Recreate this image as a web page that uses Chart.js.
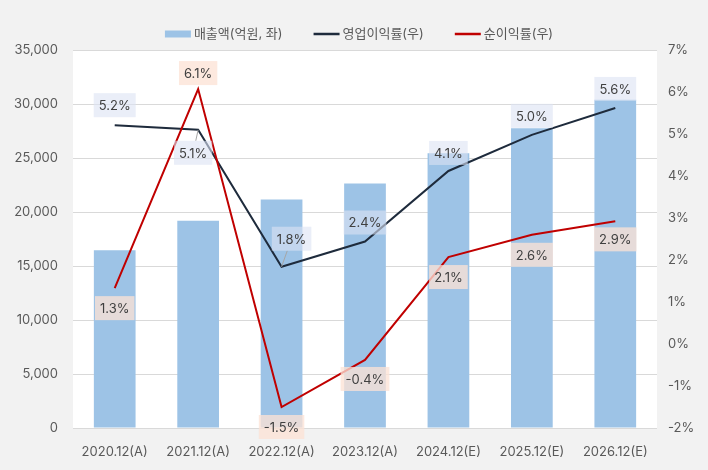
<!DOCTYPE html>
<html>
<head>
<meta charset="utf-8">
<script src="https://cdn.jsdelivr.net/npm/chart.js@4.4.1/dist/chart.umd.min.js"></script>
<style>
  html, body { margin: 0; padding: 0; background: #f2f2f2; }
  #wrap { width: 708px; height: 470px; }
</style>
</head>
<body>
<div id="wrap"><canvas id="myChart" width="708" height="470"></canvas></div>
<script>
// data
const years = ['2020.12(A)', '2021.12(A)', '2022.12(A)', '2023.12(A)', '2024.12(E)', '2025.12(E)', '2026.12(E)'];
const sales = [16450, 19200, 21150, 22650, 25450, 27750, 30400];
const opMargin = [5.21, 5.10, 1.84, 2.44, 4.12, 4.98, 5.62];
const netMargin = [1.33, 6.07, -1.5, -0.38, 2.07, 2.6, 2.92];
const leftTicks = [0, 5000, 10000, 15000, 20000, 25000, 30000, 35000];
const rightTicks = [-2, -1, 0, 1, 2, 3, 4, 5, 6, 7];

// label offsets (px) relative to each point
const opOffsets = [[0, -20], [-5, 23], [10, -28], [0, -19], [0, -18], [0, -19], [0, -19]];
const netOffsets = [[0, 20], [0, -16], [0, 20], [0, 19], [0, 20], [0, 20], [0, 18]];

const FONT = 'Inter, "Noto Sans CJK KR", sans-serif';
Chart.defaults.font.family = FONT;
Chart.defaults.font.size = 13;
Chart.defaults.color = '#595959';

const bgPlugin = {
  id: 'bg',
  beforeDraw(chart) {
    const c = chart.ctx, a = chart.chartArea;
    c.save();
    c.fillStyle = '#f2f2f2';
    c.fillRect(0, 0, chart.width, chart.height);
    c.fillStyle = '#ffffff';
    c.fillRect(a.left, a.top, a.right - a.left, a.bottom - a.top);
    c.restore();
  }
};

// legend drawn by hand so the item spacing matches
const legendPlugin = {
  id: 'myLegend',
  afterDraw(chart) {
    const c = chart.ctx;
    const ds = chart.data.datasets;
    const items = [ds[2], ds[0], ds[1]];
    const sw = 26, gapT = 3, gapItem = 31, y = 34;
    c.save();
    c.font = '13px ' + FONT;
    c.textBaseline = 'middle';
    const widths = items.map(d => c.measureText(d.label).width);
    let total = widths.reduce((s, w) => s + sw + gapT + w, 0) + gapItem * (items.length - 1);
    let x = chart.width / 2 + 5 - total / 2;
    items.forEach((d, i) => {
      if (d.type === 'line') {
        c.strokeStyle = d.borderColor;
        c.lineWidth = 2.5;
        c.beginPath();
        c.moveTo(x, y);
        c.lineTo(x + sw, y);
        c.stroke();
      } else {
        c.fillStyle = d.backgroundColor;
        c.fillRect(x, y - 3.5, sw, 7);
      }
      c.fillStyle = '#595959';
      c.fillText(d.label, x + sw + gapT, y);
      x += sw + gapT + widths[i] + gapItem;
    });
    c.restore();
  }
};

const labelPlugin = {
  id: 'pctLabels',
  afterDatasetsDraw(chart) {
    const c = chart.ctx;
    const sets = [
      { idx: 0, offs: opOffsets, bg: 'rgba(220,226,244,0.6)', vals: opMargin },
      { idx: 1, offs: netOffsets, bg: 'rgba(252,226,213,0.77)', vals: netMargin }
    ];
    c.save();
    c.font = '13px ' + FONT;
    c.textAlign = 'center';
    c.textBaseline = 'middle';
    sets.forEach(s => {
      const meta = chart.getDatasetMeta(s.idx);
      meta.data.forEach((pt, i) => {
        const txt = s.vals[i].toFixed(1) + '%';
        const dx = s.offs[i][0], dy = s.offs[i][1];
        const x = pt.x + dx, y = pt.y + dy;
        const w = c.measureText(txt).width + 10, h = 24;
        if (Math.abs(dy) > 21) {
          // leader line from the point to the box edge
          const t = (Math.abs(dy) - h / 2) / Math.abs(dy);
          c.strokeStyle = '#a6a6a6';
          c.lineWidth = 1;
          c.beginPath();
          c.moveTo(pt.x, pt.y);
          c.lineTo(pt.x + dx * t, pt.y + dy * t);
          c.stroke();
        }
        c.fillStyle = s.bg;
        c.fillRect(x - w / 2, y - h / 2, w, h);
        c.fillStyle = '#404040';
        c.fillText(txt, x, y + 1);
      });
    });
    c.restore();
  }
};

const ctx = document.getElementById('myChart');
const myChart = new Chart(ctx, {
  type: 'bar',
  data: {
    labels: years,
    datasets: [
      {
        type: 'line',
        label: '영업이익률(우)',
        data: opMargin,
        yAxisID: 'y1',
        borderColor: '#1e2b3c',
        backgroundColor: '#1e2b3c',
        borderWidth: 2,
        pointRadius: 0,
        tension: 0,
        order: 1
      },
      {
        type: 'line',
        label: '순이익률(우)',
        data: netMargin,
        yAxisID: 'y1',
        borderColor: '#c00000',
        backgroundColor: '#c00000',
        borderWidth: 2,
        pointRadius: 0,
        tension: 0,
        order: 0
      },
      {
        label: '매출액(억원, 좌)',
        data: sales,
        yAxisID: 'y',
        backgroundColor: '#9dc3e6',
        categoryPercentage: 1,
        barPercentage: 0.5,
        order: 2
      }
    ]
  },
  options: {
    responsive: false,
    animation: false,
    layout: { padding: { top: 50, left: 0, right: 0, bottom: 0 } },
    plugins: {
      tooltip: { enabled: false },
      legend: { display: false }
    },
    scales: {
      x: {
        grid: { display: false },
        border: { display: false },
        ticks: { color: '#595959', padding: 8, maxRotation: 0 },
        afterFit(s) { s.height = 42; }
      },
      y: {
        position: 'left',
        min: 0,
        max: 35000,
        afterBuildTicks(s) { s.ticks = leftTicks.map(v => ({ value: v })); },
        grid: { color: '#d9d9d9', drawTicks: false },
        border: { display: false },
        ticks: {
          color: '#595959',
          padding: 15,
          callback: v => v.toLocaleString('en-US')
        },
        afterFit(s) { s.width = 73; }
      },
      y1: {
        position: 'right',
        min: -2,
        max: 7,
        afterBuildTicks(s) { s.ticks = rightTicks.map(v => ({ value: v })); },
        grid: { display: false, drawTicks: false },
        border: { display: false },
        ticks: {
          color: '#595959',
          padding: 11,
          callback: v => v + '%'
        },
        afterFit(s) { s.width = 51; }
      }
    }
  },
  plugins: [bgPlugin, labelPlugin, legendPlugin]
});
</script>
</body>
</html>
